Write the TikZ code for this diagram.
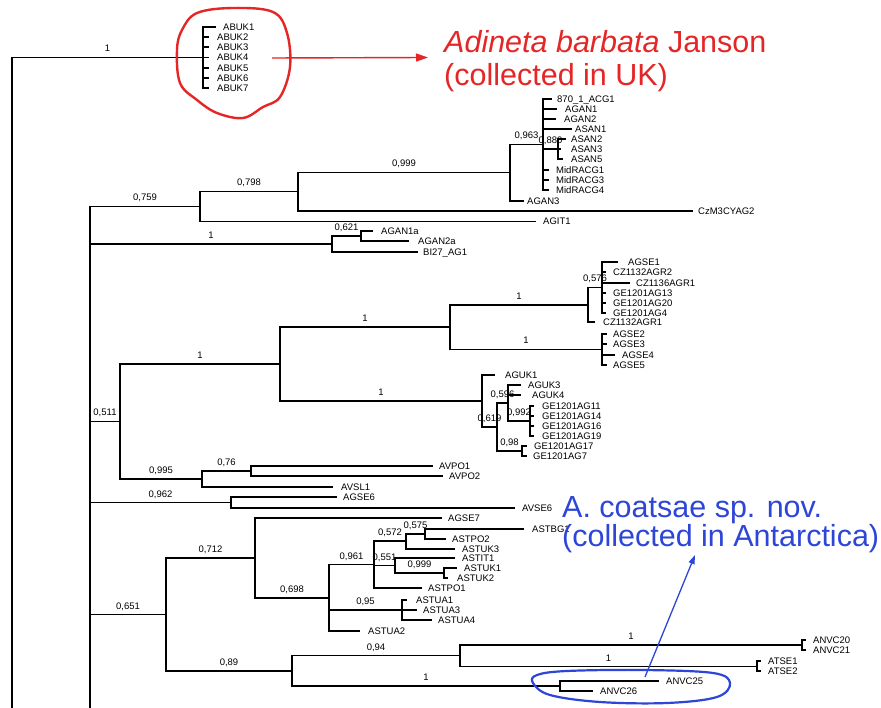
\documentclass[tikz,border=0pt]{standalone}
\usepackage{fontspec}
\setmainfont{Liberation Sans}
\usetikzlibrary{arrows.meta}
\definecolor{annred}{RGB}{228,38,38}
\definecolor{annblue}{RGB}{45,70,215}
\tikzset{
 tree/.style={line width=1.1pt, black},
 bl/.style={anchor=base, inner sep=0pt, yshift=5.5pt, font=\fontsize{9.5}{10}\selectfont},
 leaf/.style={anchor=base west, inner sep=0pt, font=\fontsize{9.5}{10}\selectfont},
 big/.style={anchor=base west, inner sep=0pt, font=\fontsize{30.5}{32}\selectfont},
}
\newcommand{\tedge}[3]{\draw[tree] (#1) |- (#2); \path (#1 |- #2) -- node[bl]{#3} (#2);}
\newcommand{\tleaf}[6]{\coordinate (#2) at (#3,#4); \draw[tree] (#1) |- (#2); \node[leaf] (#2l) at (#5,#4+3.5) {#6};}
\begin{document}
\begin{tikzpicture}[x=1pt,y=-1pt]
\fill[white] (0,0) rectangle (881,708);
\useasboundingbox (0,0) rectangle (881,708);
% root
\coordinate (r0) at (12,708);
\coordinate (abuk) at (203,57.5);
\tedge{r0}{abuk}{1}
\tleaf{abuk}{abukA}{216}{27}{223}{ABUK1}
\tleaf{abuk}{abukB}{209}{37}{217}{ABUK2}
\tleaf{abuk}{abukC}{209}{47}{217}{ABUK3}
\tleaf{abuk}{abukD}{209}{57.5}{217}{ABUK4}
\tleaf{abuk}{abukE}{209}{68}{217}{ABUK5}
\tleaf{abuk}{abukF}{209}{78}{217}{ABUK6}
\tleaf{abuk}{abukG}{209}{88}{217}{ABUK7}
% main clade
\coordinate (n90) at (90,708);
\coordinate (n759) at (200,206.5);
\coordinate (n1a) at (332,244);
\coordinate (n511) at (120,421.5);
\coordinate (n962) at (231,502.5);
\coordinate (n651) at (166,614.5);
\tedge{n90}{n759}{0,759}
\tedge{n90}{n1a}{1}
\tedge{n90}{n511}{0,511}
\tedge{n90}{n962}{0,962}
\tedge{n90}{n651}{0,651}
% n759
\coordinate (n798) at (298,191.5);
\tedge{n759}{n798}{0,798}
\tleaf{n759}{agit}{536}{221.5}{543}{AGIT1}
\coordinate (n999a) at (510,172.5);
\tedge{n798}{n999a}{0,999}
\tleaf{n798}{czm}{693}{211}{698}{CzM3CYAG2}
\coordinate (n963) at (543,144.5);
\tedge{n999a}{n963}{0,963}
\tleaf{n999a}{aganC}{524}{201}{527}{AGAN3}
\tleaf{n963}{acg}{552}{99}{557}{870\_1\_ACG1}
\tleaf{n963}{aganA}{557}{109}{565}{AGAN1}
\tleaf{n963}{aganB}{556}{119}{564}{AGAN2}
\tleaf{n963}{asanA}{572}{129}{575}{ASAN1}
\coordinate (n880) at (558,149);
\tedge{n963}{n880}{0,880}
\tleaf{n880}{asanB}{566}{139}{571}{ASAN2}
\tleaf{n880}{asanC}{561}{149}{571}{ASAN3}
\tleaf{n880}{asanE}{563}{159}{571}{ASAN5}
\tleaf{n963}{midA}{549}{170}{556}{MidRACG1}
\tleaf{n963}{midC}{549}{180}{556}{MidRACG3}
\tleaf{n963}{midD}{549}{190}{556}{MidRACG4}
% n1a
\coordinate (n621) at (361,236);
\tedge{n1a}{n621}{0,621}
\tleaf{n1a}{bi}{418}{252}{423}{BI27\_AG1}
\tleaf{n621}{aganAa}{373}{231}{381}{AGAN1a}
\tleaf{n621}{aganBa}{409}{241}{418}{AGAN2a}
% n511
\coordinate (nA) at (280,364);
\coordinate (n995) at (202,479);
\tedge{n511}{nA}{1}
\tedge{n511}{n995}{0,995}
\coordinate (nSE) at (450,327);
\coordinate (nUK) at (482,401);
\tedge{nA}{nSE}{1}
\tedge{nA}{nUK}{1}
\coordinate (n1b) at (588,305);
\coordinate (n1c) at (602,349.5);
\tedge{nSE}{n1b}{1}
\tedge{nSE}{n1c}{1}
\coordinate (n576) at (602,287.5);
\tedge{n1b}{n576}{0,576}
\tleaf{n1b}{czA}{595}{322}{603}{CZ1132AGR1}
\tleaf{n576}{agseA}{618}{262}{628}{AGSE1}
\tleaf{n576}{czB}{606}{272}{613}{CZ1132AGR2}
\tleaf{n576}{czC}{630}{283}{636}{CZ1136AGR1}
\tleaf{n576}{geA}{606}{293}{613}{GE1201AG13}
\tleaf{n576}{geB}{606}{303}{613}{GE1201AG20}
\tleaf{n576}{geC}{606}{313}{613}{GE1201AG4}
\tleaf{n1c}{agseB}{607}{334}{613}{AGSE2}
\tleaf{n1c}{agseC}{607}{344}{613}{AGSE3}
\tleaf{n1c}{agseD}{615}{355}{622}{AGSE4}
\tleaf{n1c}{agseE}{607}{365}{613}{AGSE5}
\tleaf{nUK}{agukA}{495}{375}{505}{AGUK1}
\coordinate (n619) at (497,427);
\tedge{nUK}{n619}{0,619}
\coordinate (n596) at (508,403);
\coordinate (n98) at (522,451);
\tedge{n619}{n596}{0,596}
\tedge{n619}{n98}{0,98}
\tleaf{n596}{agukC}{521}{385}{528}{AGUK3}
\tleaf{n596}{agukD}{521}{395}{532}{AGUK4}
\coordinate (n992) at (530,421);
\tedge{n596}{n992}{0,992}
\tleaf{n992}{geD}{534}{406}{542}{GE1201AG11}
\tleaf{n992}{geE}{534}{416}{542}{GE1201AG14}
\tleaf{n992}{geF}{534}{426}{542}{GE1201AG16}
\tleaf{n992}{geG}{534}{436}{542}{GE1201AG19}
\tleaf{n98}{geH}{527}{446}{534}{GE1201AG17}
\tleaf{n98}{geI}{527}{456}{533}{GE1201AG7}
\coordinate (n76) at (251,471);
\tedge{n995}{n76}{0,76}
\tleaf{n995}{avsl}{333}{487}{341}{AVSL1}
\tleaf{n76}{avpoA}{433}{466}{439}{AVPO1}
\tleaf{n76}{avpoB}{443}{476}{449}{AVPO2}
% n962
\tleaf{n962}{agseF}{337}{497}{343}{AGSE6}
\tleaf{n962}{avse}{515}{508}{522}{AVSE6}
% n651
\coordinate (n712) at (255,558);
\coordinate (n89) at (292,671);
\tedge{n651}{n712}{0,712}
\tedge{n651}{n89}{0,89}
\tleaf{n712}{agseG}{442}{518}{448}{AGSE7}
\coordinate (n698) at (329,598);
\tedge{n712}{n698}{0,698}
\coordinate (n961) at (374,564.5);
\coordinate (n95) at (402,610);
\tedge{n698}{n961}{0,961}
\tedge{n698}{n95}{0,95}
\tleaf{n698}{astuaB}{360}{631}{368}{ASTUA2}
\coordinate (n572) at (406,541);
\coordinate (n551) at (395,565.5);
\tedge{n961}{n572}{0,572}
\tedge{n961}{n551}{0,551}
\tleaf{n961}{astpoA}{422}{588}{428}{ASTPO1}
\coordinate (n575) at (425,534);
\tedge{n572}{n575}{0,575}
\tleaf{n572}{astukC}{455}{549}{462}{ASTUK3}
\tleaf{n575}{astbg}{524}{529}{532}{ASTBG1}
\tleaf{n575}{astpoB}{446}{539}{452}{ASTPO2}
\tleaf{n551}{astit}{455}{558}{462}{ASTIT1}
\coordinate (n999b) at (444,573);
\tedge{n551}{n999b}{0,999}
\tleaf{n999b}{astukA}{457}{568}{464}{ASTUK1}
\tleaf{n999b}{astukB}{448}{578}{457}{ASTUK2}
\tleaf{n95}{astuaA}{407}{600}{416}{ASTUA1}
\tleaf{n95}{astuaC}{417}{610}{423}{ASTUA3}
\tleaf{n95}{astuaD}{432}{620}{438}{ASTUA4}
\coordinate (n94) at (460,655.5);
\coordinate (nAN) at (560,686);
\tedge{n89}{n94}{0,94}
\tedge{n89}{nAN}{1}
\coordinate (nA20) at (802,645);
\coordinate (nAT) at (757,666.5);
\tedge{n94}{nA20}{1}
\tedge{n94}{nAT}{1}
\tleaf{nA20}{anvcA}{806}{640}{813}{ANVC20}
\tleaf{nA20}{anvcB}{806}{650}{813}{ANVC21}
\tleaf{nAT}{atseA}{761}{661}{768}{ATSE1}
\tleaf{nAT}{atseB}{761}{671}{768}{ATSE2}
\tleaf{nAN}{anvcC}{659}{681}{666}{ANVC25}
\tleaf{nAN}{anvcD}{593}{691}{600}{ANVC26}
% red annotation
\draw[annred, line width=2.4pt] plot[smooth cycle, tension=0.6] coordinates {(182,30) (197,13) (233,8) (273,12) (287,33) (290,67) (280,97) (263,107) (243,118) (217,113) (197,100) (180,83) (177,50)};
\coordinate (ra0) at (272,58);
\coordinate (ra1) at (428,57.5);
\draw[annred, line width=1.4pt, -{Triangle[length=12pt,width=8pt]}] (ra0) -- (ra1);
\node[big, text=annred] (rt1) at (444,53) {\textit{Adineta barbata} Janson};
\node[big, text=annred] (rt2) at (444,86) {(collected in UK)};
% blue annotation
\draw[annblue, line width=2.2pt] plot[smooth cycle, tension=0.6] coordinates {(537,675) (567,671) (643,670) (713,673) (730,683) (717,697) (667,703) (600,702) (550,695) (533,683)};
\coordinate (ba0) at (645,677);
\coordinate (ba1) at (695,555);
\draw[annblue, line width=1.3pt, -{Triangle[length=9pt,width=6pt]}] (ba0) -- (ba1);
\node[big, text=annblue] (bt1) at (562,517) {A. coatsae sp. nov.};
\node[big, text=annblue] (bt2) at (562,546) {(collected in Antarctica)};
\end{tikzpicture}
\end{document}
